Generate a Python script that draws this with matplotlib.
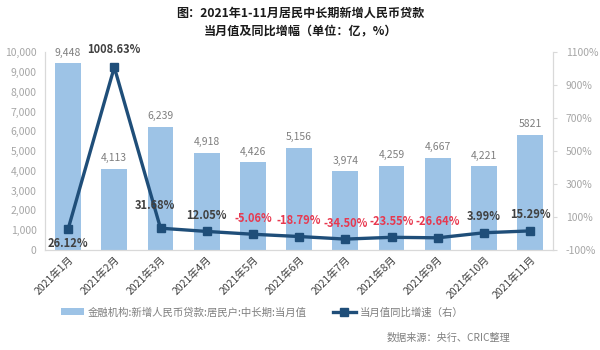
import matplotlib
matplotlib.use('Agg')
import matplotlib.pyplot as plt
from matplotlib.ticker import FuncFormatter

plt.rcParams['font.family'] = ['Noto Sans CJK SC', 'DejaVu Sans']

months = ['2021年1月', '2021年2月', '2021年3月', '2021年4月', '2021年5月', '2021年6月',
          '2021年7月', '2021年8月', '2021年9月', '2021年10月', '2021年11月']
loans = [9448, 4113, 6239, 4918, 4426, 5156, 3974, 4259, 4667, 4221, 5821]
loan_labels = ['9,448', '4,113', '6,239', '4,918', '4,426', '5,156',
               '3,974', '4,259', '4,667', '4,221', '5821']
yoy = [26.12, 1008.63, 31.68, 12.05, -5.06, -18.79, -34.50, -23.55, -26.64, 3.99, 15.29]

bar_color = '#9dc3e6'
line_color = '#1f4e79'
grey = '#a6a6a6'

fig = plt.figure(figsize=(6, 3.5), dpi=100)
ax = fig.add_axes([0.075, 0.286, 0.847, 0.565])
ax2 = ax.twinx()

x = list(range(len(months)))
bars = ax.bar(x, loans, width=0.56, color=bar_color, label='金融机构:新增人民币贷款:居民户:中长期:当月值')
ax.set_ylim(0, 10000)
ax.set_yticks(range(0, 10001, 1000))
ax.yaxis.set_major_formatter(FuncFormatter(lambda v, p: f'{int(v):,}'))
ax.set_xlim(-0.5, len(months) - 0.5)
ax.set_xticks(x)
ax.set_xticklabels(months, rotation=45, ha='right', rotation_mode='anchor', fontsize=7.5, color='#404040')
ax.tick_params(axis='y', labelsize=7.5, labelcolor=grey, length=0, pad=6)
ax.tick_params(axis='x', length=0, pad=3)

for i, v in enumerate(loans):
    ax.annotate(loan_labels[i], (i, v), xytext=(0, 4), textcoords='offset points',
                ha='center', va='bottom', fontsize=7.5, color='#7f7f7f')

ln, = ax2.plot(x, yoy, color=line_color, lw=2.4, marker='s', ms=5.5,
               label='当月值同比增速（右）')
ax2.set_ylim(-100, 1100)
ax2.set_yticks(range(-100, 1101, 200))
ax2.yaxis.set_major_formatter(FuncFormatter(lambda v, p: f'{int(v)}%'))
ax2.tick_params(axis='y', labelsize=7.5, labelcolor=grey, length=3, color='#d9d9d9', pad=6)

for a in (ax, ax2):
    a.spines['top'].set_visible(False)
    a.spines['left'].set_color('#d9d9d9')
    a.spines['right'].set_color('#d9d9d9')
    a.spines['bottom'].set_color('#d9d9d9')

# per-label nudges (points)
offsets = {0: (0, -10), 1: (0, 13), 2: (-4, 16)}
for i, v in enumerate(yoy):
    dx, dy = offsets.get(i, (0, 11.5))
    col = '#e8384f' if v < 0 else '#404040'
    ax2.annotate(f'{v:.2f}%', (i, v), xytext=(dx, dy), textcoords='offset points',
                 ha='center', va='center', fontsize=8, fontweight='bold', color=col)

fig.text(0.5, 0.962, '图：2021年1-11月居民中长期新增人民币贷款', ha='center', va='center',
         fontsize=8.7, fontweight='bold', color='#1a1a1a')
fig.text(0.5, 0.908, '当月值及同比增幅（单位：亿，%）', ha='center', va='center',
         fontsize=8.7, fontweight='bold', color='#1a1a1a')

fig.legend([bars, ln], [bars.get_label(), ln.get_label()], loc='center',
           bbox_to_anchor=(0.437, 0.108), ncol=2, frameon=False, fontsize=7.5,
           labelcolor='#7f7f7f', handlelength=2.2, handletextpad=0.4, columnspacing=2.5)

fig.text(0.85, 0.035, '数据来源：央行、CRIC整理', ha='right', va='center',
         fontsize=7.3, color='#7f7f7f')

fig.savefig('out.png', dpi=100)
